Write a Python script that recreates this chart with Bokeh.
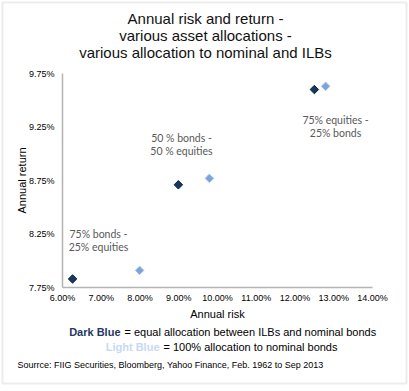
from bokeh.plotting import figure
from bokeh.models import Label, FixedTicker, PrintfTickFormatter, Range1d, BoxAnnotation
from bokeh.embed import file_html
from bokeh.resources import INLINE

# ---- data ----
risk_dark = [6.26, 8.99, 12.50]
ret_dark = [7.83, 8.71, 9.60]
risk_light = [7.99, 9.79, 12.79]
ret_light = [7.91, 8.77, 9.63]
x_ticks = [6, 7, 8, 9, 10, 11, 12, 13, 14]
y_ticks = [7.75, 8.25, 8.75, 9.25, 9.75]
title_lines = ["Annual risk and return -", "various asset allocations -",
               "various allocation to nominal and ILBs"]
ann_texts = [["75% bonds -", "25% equities"], ["50 % bonds -", "50 % equities"],
             ["75% equities -", "25% bonds"]]
legend_keys = ["Dark Blue", "Light Blue"]
legend_texts = ["= equal allocation between ILBs and nominal bonds",
                "= 100% allocation to nominal bonds"]
source_text = "Sourrce: FIIG Securities, Bloomberg, Yahoo Finance, Feb. 1962 to Sep 2013"

FONT = "Liberation Sans"
W, H = 409, 391

# plot-area placement inside the canvas (pixels)
FX0, FX1, FY0, FY1 = 62, 372, 73, 287   # left, right, top, bottom
xmin, xmax = x_ticks[0], x_ticks[-1]
ymin, ymax = y_ticks[0], y_ticks[-1]
xs = (xmax - xmin) / (FX1 - FX0)
ys = (ymax - ymin) / (FY1 - FY0)
x_range = Range1d(xmin - FX0 * xs, xmax + (W - FX1) * xs)
y_range = Range1d(ymin - (H - FY1) * ys, ymax + FY0 * ys)

p = figure(width=W, height=H, output_backend="svg", toolbar_location=None,
           x_range=x_range, y_range=y_range, min_border=0)
p.background_fill_color = "white"
p.border_fill_color = "white"
p.outline_line_color = None
p.xgrid.grid_line_color = None
p.ygrid.grid_line_color = None

for ax in (p.xaxis[0], p.yaxis[0]):
    ax.axis_line_color = "#b3b3b3"
    ax.axis_line_width = 1.5
    ax.major_tick_line_color = None
    ax.minor_tick_line_color = None
    ax.major_tick_out = 0
    ax.major_tick_in = 0
    ax.major_label_text_font = FONT
    ax.major_label_text_font_size = "9px"
    ax.major_label_text_color = "black"
    ax.axis_label_text_font = FONT
    ax.axis_label_text_font_size = "11px"
    ax.axis_label_text_font_style = "normal"
    ax.axis_label_text_color = "black"
    ax.formatter = PrintfTickFormatter(format="%.2f%%")

p.xaxis.ticker = FixedTicker(ticks=x_ticks)
p.yaxis.ticker = FixedTicker(ticks=y_ticks)
p.xaxis.bounds = (xmin, xmax)
p.yaxis.bounds = (ymin, ymax)
p.xaxis.fixed_location = ymin
p.yaxis.fixed_location = xmin
p.xaxis.axis_label = "Annual risk"
p.yaxis.axis_label = "Annual return"
p.xaxis.major_label_standoff = 5
p.yaxis.major_label_standoff = 8
p.xaxis.axis_label_standoff = 2
p.yaxis.axis_label_standoff = -2

p.scatter(risk_dark, ret_dark, marker="square", angle=0.785398, size=6,
          fill_color="#17375E", line_color="#0f2440", line_width=1)
p.scatter(risk_light, ret_light, marker="square", angle=0.785398, size=6,
          fill_color="#7BA5DA", line_color="#a4c2e8", line_width=1)


def lab(px, py, t, align="center", font=FONT, size="11px", style="normal", color="black"):
    p.add_layout(Label(x=px, y=H - py, x_units="screen", y_units="screen", text=t,
                       text_align=align, text_baseline="middle", text_font=font,
                       text_font_size=size, text_font_style=style, text_color=color))


# title
for txt, yy in zip(title_lines, [18, 35, 52]):
    lab(205, yy, txt, size="15px", color="#111111")

# annotations
ann_pos = [(98, 233), (181, 137), (335, 119)]
for lines, (px, py) in zip(ann_texts, ann_pos):
    for i, t in enumerate(lines):
        lab(px, py + 13 * i, t, font="Lato", size="10.5px", color="#595959")

# legend / source
key_colors = ["#1F3864", "#C6D9F1"]
key_right = [120, 159]
for key, txt, col, xr, yy in zip(legend_keys, legend_texts, key_colors, key_right, [331, 346]):
    lab(xr, yy, key, align="right", style="bold", color=col)
    lab(xr + 4, yy, txt, align="left")
lab(17, 364, source_text, align="left", size="9px")

# outer border
p.add_layout(BoxAnnotation(left=2, right=406, top=H - 2, bottom=H - 383,
                           left_units="screen", right_units="screen",
                           top_units="screen", bottom_units="screen",
                           fill_color=None, line_color="#bfbfbf", line_width=2))

open("out.html", "w").write(file_html(p, INLINE))
